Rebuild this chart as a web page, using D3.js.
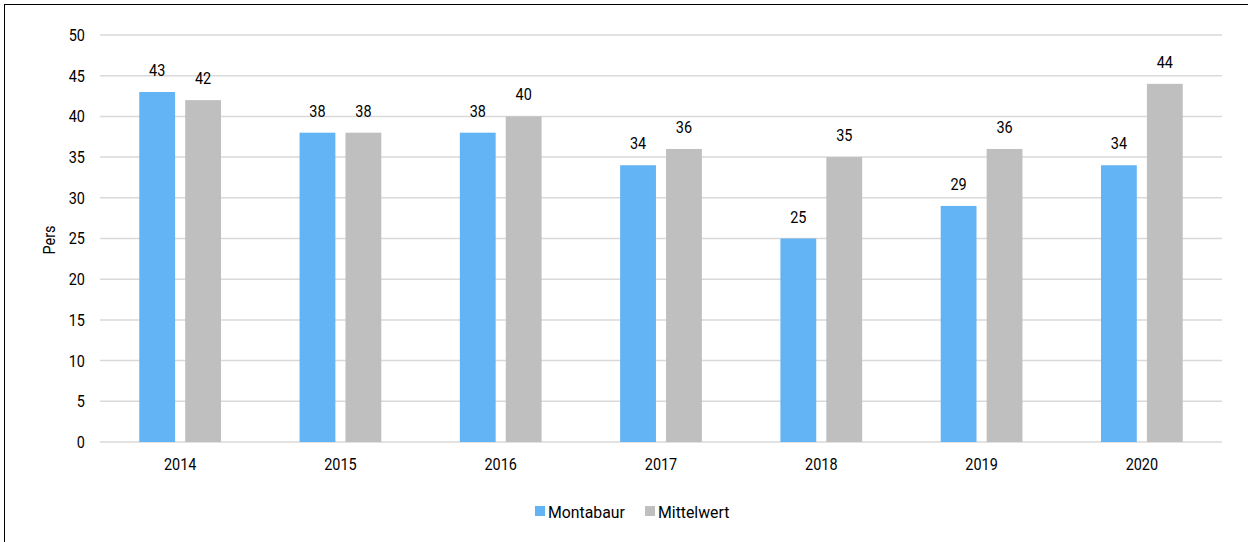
<!DOCTYPE html>
<html><head><meta charset="utf-8">
<script src="https://cdn.jsdelivr.net/npm/d3@7"></script>
<style>
body{margin:0;background:#fff;}
text{font-family:"Roboto",sans-serif;fill:#000;font-size:17px;}
</style></head><body>
<svg id="c" width="1248" height="542"></svg>
<script>
const years = ["2014","2015","2016","2017","2018","2019","2020"];
const montabaur = [43,38,38,34,25,29,34];
const mittelwert = [42,38,40,36,35,36,44];
const seriesNames = ["Montabaur","Mittelwert"];
const colors = ["#63B4F5","#BFBFBF"];
const yTicks = [0,5,10,15,20,25,30,35,40,45,50];
const SX = 0.85;

const svg = d3.select("#c");
svg.append("rect").attr("x",4.5).attr("y",4.5).attr("width",1260).attr("height",560)
  .attr("fill","none").attr("stroke","#000").attr("stroke-width",1);

const m = {l:100, r:1222, t:35, b:442};
const x = d3.scaleBand().domain(years).range([m.l,m.r]).paddingInner(0.49).paddingOuter(0.245);
const xs = d3.scaleBand().domain(seriesNames).range([0,x.bandwidth()]).paddingInner(0.22);
const y = d3.scaleLinear().domain([0,50]).range([m.b,m.t]);

svg.append("g").selectAll("line").data(yTicks).join("line")
  .attr("x1",m.l).attr("x2",m.r).attr("y1",d=>y(d)).attr("y2",d=>y(d))
  .attr("stroke","#D9D9D9").attr("stroke-width",1.5);

const yAxis = d3.axisLeft(y).tickValues(yTicks).tickSize(0).tickPadding(0);
const ya = svg.append("g").attr("transform",`translate(${m.l},0)`).call(yAxis);
ya.attr("font-family",null).attr("font-size",null);
ya.select(".domain").remove();
ya.selectAll("text").attr("x",-15/SX).attr("transform",`scale(${SX},1)`).attr("fill","#000");

const xAxis = d3.axisBottom(x).tickSize(0).tickPadding(0);
const xa = svg.append("g").attr("transform",`translate(0,${m.b})`).call(xAxis);
xa.attr("font-family",null).attr("font-size",null);
xa.select(".domain").remove();
xa.selectAll("text").attr("y",28).attr("dy",null).attr("transform",`scale(${SX},1)`).attr("fill","#000");

const data = years.map((yr,i)=>({yr, vals:[montabaur[i], mittelwert[i]]}));
const grp = svg.append("g").selectAll("g").data(data).join("g")
  .attr("transform",d=>`translate(${x(d.yr)},0)`);
const items = d=>d.vals.map((v,j)=>({v,s:seriesNames[j],j}));
grp.selectAll("rect").data(items).join("rect")
  .attr("x",d=>xs(d.s)).attr("width",xs.bandwidth())
  .attr("y",d=>y(d.v)).attr("height",d=>y(0)-y(d.v))
  .attr("fill",d=>colors[d.j]);
grp.selectAll("g.val").data(items).join("g").attr("class","val")
  .attr("transform",d=>`translate(${xs(d.s)+xs.bandwidth()/2},${y(d.v)-16}) scale(${SX},1)`)
  .append("text").attr("text-anchor","middle").text(d=>d.v);

svg.append("text").attr("transform",`translate(55,240) rotate(-90) scale(${SX},1)`)
  .attr("text-anchor","middle").text("Pers");

const leg = svg.append("g");
const legX = [535,645];
seriesNames.forEach((s,i)=>{
  leg.append("rect").attr("x",legX[i]).attr("y",506).attr("width",10).attr("height",10).attr("fill",colors[i]);
  leg.append("text").attr("transform",`translate(${legX[i]+13},518) scale(0.93,1)`).text(s);
});
</script>
</body></html>
